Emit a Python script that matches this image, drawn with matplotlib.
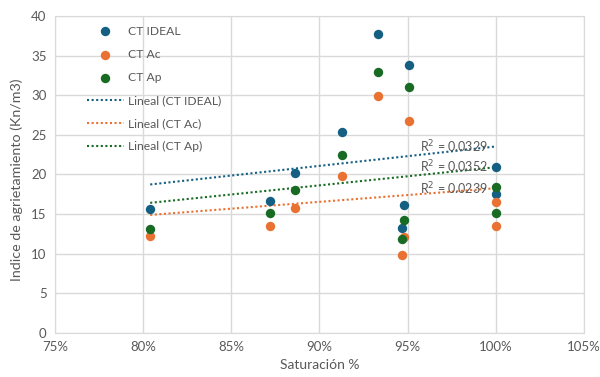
import matplotlib
matplotlib.use("Agg")
import matplotlib.pyplot as plt
import numpy as np
from matplotlib.ticker import FuncFormatter

plt.rcParams['font.family'] = ['Lato', 'DejaVu Sans']

# saturation (%) of each sample
saturacion = [80.4, 87.2, 88.6, 91.3, 93.3, 95.1, 94.8, 94.7, 100.0, 100.0]
ct_ideal = [15.6, 16.6, 20.2, 25.3, 37.7, 33.8, 16.2, 13.2, 20.9, 17.6]
ct_ac = [12.3, 13.5, 15.8, 19.75, 29.9, 26.7, 12.1, 9.8, 16.5, 13.5]
ct_ap = [13.1, 15.1, 18.0, 22.4, 32.9, 31.0, 14.3, 11.8, 18.4, 15.1]
series_names = ["CT IDEAL", "CT Ac", "CT Ap"]
r2_labels = ["0.0329", "0.0239", "0.0352"]

colors = ["#156082", "#E97132", "#196B24"]
gray = "#595959"
grid_c = "#D9D9D9"

fig = plt.figure(figsize=(6, 3.77), dpi=100)
ax = fig.add_axes([0.0917, 0.1167, 0.8813, 0.8409])

x = np.array(saturacion)
all_y = [ct_ideal, ct_ac, ct_ap]

for name, ys, c in zip(series_names, all_y, colors):
    ax.scatter(x, ys, s=46, color=c, label=name, zorder=3, linewidths=0)

fits = []
for name, ys, c in zip(series_names, all_y, colors):
    m, b = np.polyfit(x, ys, 1)
    fits.append((m, b))
    xs = np.array([x.min(), x.max()])
    ax.plot(xs, m * xs + b, color=c, linestyle=(0, (1, 1.2)), lw=1.5,
            label="Lineal (%s)" % name, zorder=2)

# R² labels near end of the trend lines
for (m, b), r2 in zip(fits, r2_labels):
    yv = m * 100 + b
    ax.text(95.7, yv, "R$^2$ = " + r2, color=gray, fontsize=9, va="center",
            ha="left", zorder=4)

ax.set_xlim(75, 105)
ax.set_ylim(0, 40)
ax.set_xticks(np.arange(75, 106, 5))
ax.set_yticks(np.arange(0, 41, 5))
ax.xaxis.set_major_formatter(FuncFormatter(lambda v, p: "%d%%" % round(v)))
ax.grid(True, color=grid_c, lw=1)
ax.set_axisbelow(True)
for s in ax.spines.values():
    s.set_color(grid_c)
ax.tick_params(length=0, colors=gray, labelsize=9.5, pad=6)
ax.set_xlabel("Saturación %", color=gray, fontsize=10, labelpad=4)
ax.set_ylabel("Indice de agrietamiento (Kn/m3)", color=gray, fontsize=10.3)
ax.yaxis.set_label_coords(-0.0605, 0.483)

leg = ax.legend(loc="upper left", bbox_to_anchor=(0.040, 1.004), frameon=False,
                fontsize=8.7, labelcolor=gray, handlelength=3.05,
                handletextpad=0.3, labelspacing=1.0)

fig.savefig("out.png", dpi=100)
